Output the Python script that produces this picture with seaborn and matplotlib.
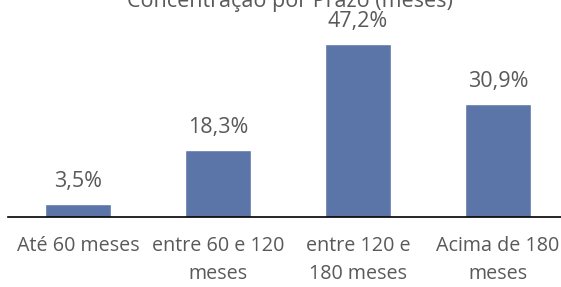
import seaborn as sns
import matplotlib.pyplot as plt

# data
categorias = ['Até 60 meses', 'entre 60 e 120\nmeses', 'entre 120 e\n180 meses', 'Acima de 180\nmeses']
valores = [3.5, 18.3, 47.2, 30.9]
rotulos = ['3,5%', '18,3%', '47,2%', '30,9%']

sns.set_style('white')
plt.rcParams['font.family'] = ['Open Sans', 'DejaVu Sans']

fig = plt.figure(figsize=(5.61, 2.87), dpi=100)
ax = fig.add_axes([8 / 561, 1 - 217 / 287, 553 / 561, 207 / 287])

sns.barplot(x=categorias, y=valores, color='#5B75A8', saturation=1, width=0.475, ax=ax)

for i, (v, r) in enumerate(zip(valores, rotulos)):
    ax.text(i, v + 3.2, r, ha='center', va='bottom', fontsize=15.5, color='#595959')

ax.set_ylim(0, 56.4)
ax.set_xlim(-0.5, 3.45)
ax.set_yticks([])
for s in ['top', 'right', 'left']:
    ax.spines[s].set_visible(False)
ax.spines['bottom'].set_color('#000000')
ax.spines['bottom'].set_linewidth(1.2)
ax.tick_params(axis='x', length=0, pad=14, labelsize=14.2, labelcolor='#595959')
for t in ax.get_xticklabels():
    t.set_linespacing(1.5)

fig.text(0.517, 0.995, 'Concentração por Prazo (meses)', ha='center', va='center',
         fontsize=15.5, color='#595959')

fig.savefig('out.png', dpi=100)
